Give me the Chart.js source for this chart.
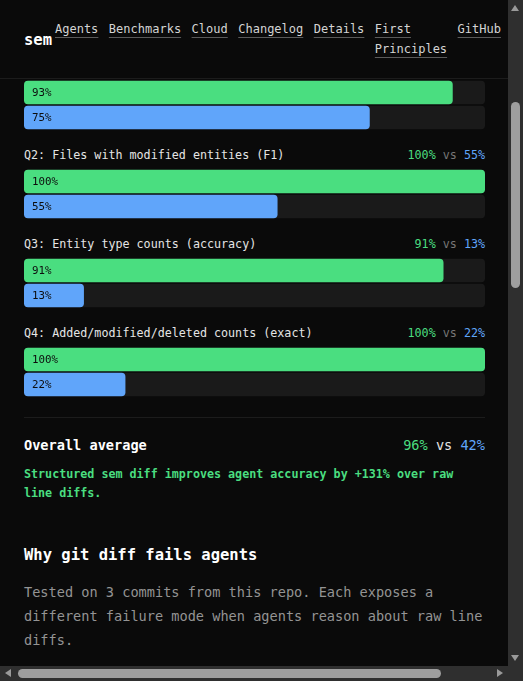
<!DOCTYPE html>
<html>
<head>
<meta charset="utf-8">
<script src="https://cdn.jsdelivr.net/npm/chart.js@4.4.1/dist/chart.umd.min.js"></script>
<style>
  html { color-scheme: dark; overflow: scroll; }
  body { margin: 0; background: #0a0a0a; color: #e5e5e5; font-family: "DejaVu Sans Mono", monospace; width: 574px; height: 2277px; position: relative; }
  header { position: fixed; top: 0; left: 0; right: 0; height: 78px; background: #0a0a0a; border-bottom: 1px solid #1c1c1c; z-index: 5; }
  .logo { position: absolute; left: 24px; top: 30px; font-size: 15.5px; font-weight: bold; line-height: 20px; color: #fff; }
  nav { position: absolute; left: 55px; top: 19px; display: flex; gap: 10.5px; font-size: 12px; line-height: 20px; }
  nav a { color: #d4d4d4; text-decoration: underline; text-decoration-color: #5a5a5a; text-underline-offset: 4px; }
  main { position: absolute; left: 24px; top: 368px; width: 461px; }
  .group { margin-bottom: 16px; }
  .qrow { display: flex; justify-content: space-between; height: 18px; line-height: 18px; font-size: 11.7px; margin-bottom: 5px; }
  .qrow .t { color: #e5e5e5; }
  .g { color: #4ade80; }
  .b { color: #60a5fa; }
  .vs { color: #777; }
  canvas { display: block; }
  .summary { margin-top: 20px; border-top: 1px solid #1c1c1c; padding-top: 17px; }
  .orow { display: flex; justify-content: space-between; line-height: 20px; font-size: 13.6px; }
  .orow .t { font-weight: bold; color: #fff; }
  .orow .vs { color: #e5e5e5; }
  .note { margin-top: 9.5px; font-size: 11.7px; line-height: 19px; font-weight: bold; color: #4ade80; }
  h2 { margin: 41.5px 0 0; font-size: 15.5px; line-height: 22px; color: #fff; }
  p.intro { margin: 14px 0 0; font-size: 13.6px; line-height: 24px; color: #949494; }
  .sb { position: fixed; background: #2f2f2f; z-index: 10; }
  .thumb { position: absolute; background: #9e9e9e; border-radius: 5px; }
  .arr { position: absolute; width: 0; height: 0; }
</style>
</head>
<body>
<header>
  <div class="logo">sem</div>
  <nav>
    <a>Agents</a><a>Benchmarks</a><a>Cloud</a><a>Changelog</a><a>Details</a><a>First<br>Principles</a><a>GitHub</a>
  </nav>
</header>
<main id="main"></main>

<!-- window scrollbars (headless hides the real ones) -->
<div class="sb" style="left:508px; top:0; width:15px; height:681px;">
  <div class="arr" style="left:3px; top:5px; border-left:4.5px solid transparent; border-right:4.5px solid transparent; border-bottom:6px solid #9a9a9a;"></div>
  <div class="thumb" style="left:3px; top:102px; width:9px; height:186px;"></div>
  <div class="arr" style="left:3px; top:655px; border-left:4.5px solid transparent; border-right:4.5px solid transparent; border-top:6px solid #9a9a9a;"></div>
</div>
<div class="sb" style="left:0; top:666px; width:508px; height:15px;">
  <div class="arr" style="left:5px; top:3px; border-top:4.5px solid transparent; border-bottom:4.5px solid transparent; border-right:6px solid #9a9a9a;"></div>
  <div class="thumb" style="left:18px; top:3px; width:423px; height:9px;"></div>
  <div class="arr" style="left:497px; top:3px; border-top:4.5px solid transparent; border-bottom:4.5px solid transparent; border-left:6px solid #9a9a9a;"></div>
</div>

<script>
const questions = [
  "Q1: Modified entity names (F1)",
  "Q2: Files with modified entities (F1)",
  "Q3: Entity type counts (accuracy)",
  "Q4: Added/modified/deleted counts (exact)"
];
const semScores = [93, 100, 91, 100];
const diffScores = [75, 55, 13, 22];
const overallScores = [96, 42];
const seriesNames = ["sem diff", "git diff"];

const GREEN = "#4ade80";
const BLUE = "#60a5fa";
const TRACK = "#1a1a1a";

// percent text drawn at the start of each coloured bar
const barLabels = {
  id: "barLabels",
  afterDatasetsDraw(chart) {
    const ctx = chart.ctx;
    const meta = chart.getDatasetMeta(0);
    ctx.save();
    ctx.font = "10.8px 'DejaVu Sans Mono'";
    ctx.fillStyle = "#0d0d0d";
    ctx.textBaseline = "middle";
    meta.data.forEach((bar, i) => {
      ctx.fillText(chart.data.datasets[0].data[i] + "%", bar.base + 8, bar.y + 0.5);
    });
    ctx.restore();
  }
};

const main = document.getElementById("main");
questions.forEach((q, i) => {
  const group = document.createElement("div");
  group.className = "group";
  group.innerHTML =
    '<div class="qrow"><span class="t">' + q + '</span><span><span class="g">' + semScores[i] +
    '%</span> <span class="vs">vs</span> <span class="b">' + diffScores[i] + '%</span></span></div>';
  const canvas = document.createElement("canvas");
  canvas.width = 461;
  canvas.height = 50;
  group.appendChild(canvas);
  main.appendChild(group);

  new Chart(canvas, {
    type: "bar",
    data: {
      labels: seriesNames,
      datasets: [
        {
          data: [semScores[i], diffScores[i]],
          backgroundColor: [GREEN, BLUE],
          borderRadius: 4,
          borderSkipped: false,
          grouped: false,
          barPercentage: 0.94,
          categoryPercentage: 1
        },
        {
          data: [100, 100],
          backgroundColor: TRACK,
          borderRadius: 4,
          borderSkipped: false,
          grouped: false,
          barPercentage: 0.94,
          categoryPercentage: 1
        }
      ]
    },
    options: {
      indexAxis: "y",
      responsive: false,
      animation: false,
      layout: { padding: 0 },
      plugins: { legend: { display: false }, tooltip: { enabled: false } },
      scales: {
        x: { min: 0, max: 100, display: false },
        y: { display: false }
      }
    },
    plugins: [barLabels]
  });
});

const summary = document.createElement("div");
summary.className = "summary";
summary.innerHTML =
  '<div class="orow"><span class="t">Overall average</span><span><span class="g">' + overallScores[0] +
  '%</span> <span class="vs">vs</span> <span class="b">' + overallScores[1] + '%</span></span></div>' +
  '<div class="note">Structured sem diff improves agent accuracy by +131% over raw<br>line diffs.</div>' +
  '<h2>Why git diff fails agents</h2>' +
  '<p class="intro">Tested on 3 commits from this repo. Each exposes a<br>different failure mode when agents reason about raw line<br>diffs.</p>';
main.appendChild(summary);

window.scrollTo(0, 311);
requestAnimationFrame(() => window.scrollTo(0, 311));
</script>
</body>
</html>
